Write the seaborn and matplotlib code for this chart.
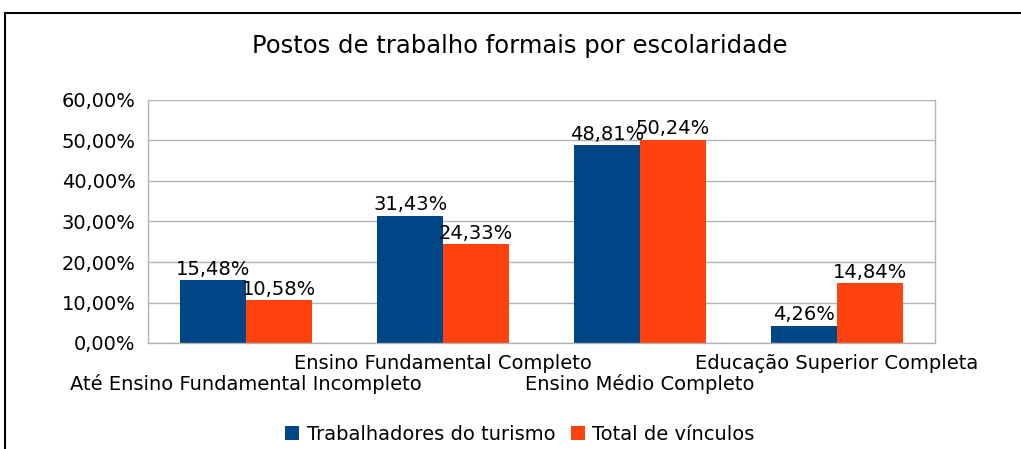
import matplotlib
matplotlib.use("Agg")
import matplotlib.pyplot as plt
from matplotlib.lines import Line2D
from matplotlib.transforms import ScaledTranslation
import numpy as np
import pandas as pd
import seaborn as sns

categories = [
    "Até Ensino Fundamental Incompleto",
    "Ensino Fundamental Completo",
    "Ensino Médio Completo",
    "Educação Superior Completa",
]
series_names = ["Trabalhadores do turismo", "Total de vínculos"]
turismo = [15.48, 31.43, 48.81, 4.26]
total = [10.58, 24.33, 50.24, 14.84]
y_ticks = [0, 10, 20, 30, 40, 50, 60]
colors = ["#004586", "#ff420e"]

df = pd.DataFrame({
    "categoria": categories * 2,
    "serie": [series_names[0]] * 4 + [series_names[1]] * 4,
    "valor": turismo + total,
})

sns.set_theme(style="white")
plt.rcParams["font.family"] = ["DejaVu Sans"]
plt.rcParams["text.color"] = "black"
plt.rcParams["xtick.color"] = "black"
plt.rcParams["ytick.color"] = "black"

fig = plt.figure(figsize=(10.21, 4.49), dpi=100)
ax = fig.add_axes([148 / 1021, 1 - 343 / 449, (935 - 148) / 1021, (343 - 100) / 449])

sns.barplot(data=df, x="categoria", y="valor", hue="serie", palette=colors,
            width=0.67, gap=0, saturation=1, linewidth=0, ax=ax, legend=True)

grid_c = "#b3b3b3"
fs = 14
ax.set_ylim(0, 60)
ax.set_xlim(-0.5, 3.5)
ax.set_yticks(y_ticks)
ax.set_yticklabels([f"{v:.2f}%".replace(".", ",") for v in y_ticks], fontsize=fs)
ax.yaxis.grid(True, color=grid_c, linewidth=1)
ax.set_axisbelow(True)
ax.tick_params(axis="y", length=5, width=1, color=grid_c, pad=4, labelcolor="black")

# category labels, staggered on two rows
ax.set_xticks(range(len(categories)))
ax.set_xticklabels(categories, fontsize=fs)
ax.tick_params(axis="x", which="major", length=0, pad=8, labelcolor="black")
shift = ScaledTranslation(0, -20 / 100, fig.dpi_scale_trans)
for i, lbl in enumerate(ax.get_xticklabels()):
    if i % 2 == 0:
        lbl.set_transform(lbl.get_transform() + shift)
ax.set_xticks(np.arange(-0.5, 4, 1), minor=True)
ax.tick_params(axis="x", which="minor", length=6, width=1, color=grid_c)
ax.set_xlabel("")
ax.set_ylabel("")
for s in ax.spines.values():
    s.set_color(grid_c)
    s.set_linewidth(1)
ax.spines["top"].set_visible(False)

for cont in ax.containers:
    ax.bar_label(cont, labels=[f"{v:.2f}%".replace(".", ",") for v in cont.datavalues],
                 fontsize=fs, padding=1, color="black")

handles, _ = ax.get_legend_handles_labels()
ax.legend_.remove()
fig.legend(handles, series_names, loc="center", bbox_to_anchor=(520 / 1021, 1 - 434 / 449),
           ncol=2, frameon=False, fontsize=fs, handlelength=0.7, handleheight=0.7,
           handletextpad=0.4, columnspacing=0.8)

fig.text(520 / 1021, 1 - 46 / 449, "Postos de trabalho formais por escolaridade",
         ha="center", va="center", fontsize=17.5, color="black")

# outer frame
fig.add_artist(Line2D([5 / 1021, 1], [1 - 13 / 449] * 2, color="black", linewidth=1.5,
                      transform=fig.transFigure))
fig.add_artist(Line2D([5 / 1021] * 2, [0, 1 - 13 / 449], color="black", linewidth=1.5,
                      transform=fig.transFigure))

fig.savefig("out.png", dpi=100)
